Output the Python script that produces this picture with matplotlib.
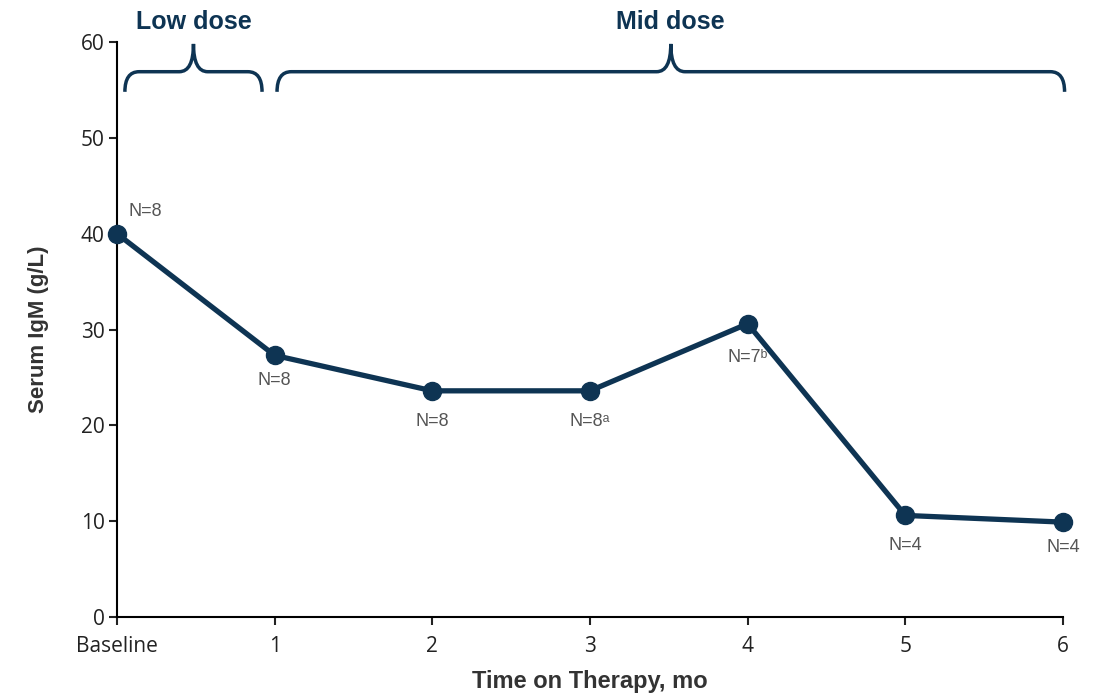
import matplotlib
matplotlib.use("Agg")
import matplotlib.pyplot as plt
from matplotlib.path import Path
from matplotlib.patches import PathPatch

# Data
time_labels = ["Baseline", "1", "2", "3", "4", "5", "6"]
time_pos = [0, 1, 2, 3, 4, 5, 6]
igm = [40.0, 27.3, 23.6, 23.6, 30.6, 10.6, 9.9]
n_labels = ["N=8", "N=8", "N=8", "N=8\u1d43", "N=7\u1d47", "N=4", "N=4"]
y_ticks = [0, 10, 20, 30, 40, 50, 60]
dose_names = ["Low dose", "Mid dose"]
dose_ranges = [(0.05, 0.92), (1.015, 6.01)]

navy = "#0e3453"
plt.rcParams['font.family'] = ['Open Sans', 'DejaVu Sans']
sans = ['Liberation Sans', 'DejaVu Sans']

fig = plt.figure(figsize=(11.01, 6.93), dpi=100)
ax = fig.add_axes([117/1101, 1-617/693, (1063-117)/1101, (617-42)/693])
ax.plot(time_pos, igm, color=navy, lw=3.8, marker='o', ms=13, clip_on=False, zorder=3)
ax.set_xlim(0, 6)
ax.set_ylim(0, 60)
ax.set_xticks(time_pos)
ax.set_xticklabels(time_labels)
ax.set_yticks(y_ticks)
for s in ['top', 'right']:
    ax.spines[s].set_visible(False)
for s in ['left', 'bottom']:
    ax.spines[s].set_linewidth(1.5)
ax.tick_params(axis='both', direction='out', length=6, width=1.5, labelsize=15, colors='#222222')
ax.tick_params(axis='x', pad=8)
ax.tick_params(axis='y', pad=3)

ax.set_xlabel("Time on Therapy, mo", fontsize=17, fontweight='bold', color='#333333', labelpad=9,
              family=sans)
ax.set_ylabel("Serum IgM (g/L)", fontsize=16, fontweight='bold', color='#333333', labelpad=23,
              family=sans)

offsets = [(8, 16), (0, -18), (0, -22), (0, -22), (0, -24), (0, -22), (0, -18)]
has = ['left', 'center', 'center', 'center', 'center', 'center', 'center']
for x, y, lab, off, ha in zip(time_pos, igm, n_labels, offsets, has):
    ax.annotate(lab, (x, y), xytext=off, textcoords='offset points', ha=ha, va='center',
                fontsize=13, color='#555555', family=sans, annotation_clip=False)

# Braces
y_end, y_mid, y_tip = 54.8, 56.9, 59.8
for name, (x0, x1) in zip(dose_names, dose_ranges):
    xm = (x0 + x1) / 2
    r = 0.09
    verts = [(x0, y_end), (x0, y_mid), (x0 + r, y_mid),
             (xm - r, y_mid), (xm, y_mid), (xm, y_tip),
             (xm, y_mid), (xm + r, y_mid),
             (x1 - r, y_mid), (x1, y_mid), (x1, y_end)]
    codes = [Path.MOVETO, Path.CURVE3, Path.CURVE3,
             Path.LINETO, Path.CURVE3, Path.CURVE3,
             Path.CURVE3, Path.CURVE3,
             Path.LINETO, Path.CURVE3, Path.CURVE3]
    ax.add_patch(PathPatch(Path(verts, codes), fill=False, ec=navy, lw=2.5, clip_on=False))
    ax.text(xm, 62.1, name, ha='center', va='center', fontsize=18, fontweight='bold', color=navy,
            family=sans, clip_on=False)

fig.savefig("out.png", dpi=100)
